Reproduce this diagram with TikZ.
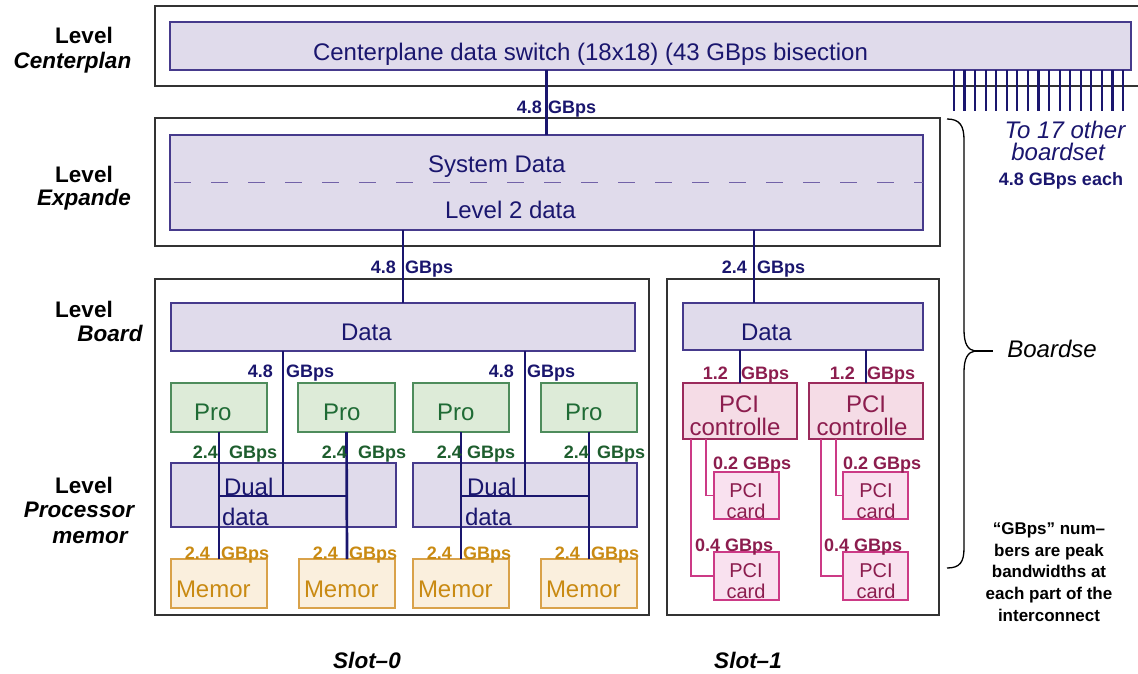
\documentclass[tikz,border=0pt]{standalone}
\usepackage{fontspec}
\setmainfont{Liberation Sans}
\usetikzlibrary{calc}

% palette
\definecolor{navy}{HTML}{1A166E}
\definecolor{frame}{HTML}{333333}
\definecolor{dataline}{HTML}{463A8C}
\definecolor{datafill}{HTML}{E0DBEB}
\definecolor{dashcol}{HTML}{7262A8}
\definecolor{profill}{HTML}{DDEBD8}
\definecolor{proline}{HTML}{4E8C5C}
\definecolor{protext}{HTML}{1F6B35}
\definecolor{prolab}{HTML}{1E5E2E}
\definecolor{memfill}{HTML}{FAEFDD}
\definecolor{memline}{HTML}{D9A24A}
\definecolor{memtext}{HTML}{C98A12}
\definecolor{pcifill}{HTML}{F5DCE6}
\definecolor{pciline}{HTML}{9B2B5C}
\definecolor{pcitext}{HTML}{8C1D4E}
\definecolor{cardfill}{HTML}{F9E1EF}
\definecolor{cardline}{HTML}{CC3A86}

% font sizes (1pt = 1 pixel of the page)
\newcommand\szbox{\fontsize{24}{26}\selectfont}
\newcommand\szcard{\fontsize{20}{21}\selectfont}
\newcommand\szrate{\bfseries\fontsize{18}{18}\selectfont}
\newcommand\szside{\bfseries\fontsize{22.5}{24}\selectfont}
\newcommand\sznote{\bfseries\fontsize{17}{21.7}\selectfont}

% a box given by its corners: style, name, x1, y1, x2, y2
\newcommand\boxat[6]{%
  \node[#1, minimum width={#5pt-#3pt}, minimum height={#6pt-#4pt}]
    (#2) at ({(#3+#5)/2},{(#4+#6)/2}) {};}

% a rate label split around a vertical link: name, colour, number, number's right x, GBps left x, baseline
\newcommand\rate[6]{%
  \node[txt, font=\szrate, text=#2, anchor=base east] (#1n) at (#4,#6) {#3};
  \node[txt, font=\szrate, text=#2, anchor=base west] (#1g) at (#5,#6) {GBps};}

\begin{document}
\begin{tikzpicture}[x=1pt, y=-1pt,
  txt/.style={inner sep=0pt, outer sep=0pt},
  boxbase/.style={rectangle, inner sep=0pt, outer sep=0pt, line width=1.6pt},
  outerbox/.style={boxbase, draw=frame, line width=1.5pt},
  databox/.style={boxbase, draw=dataline, fill=datafill},
  probox/.style={boxbase, draw=proline, fill=profill},
  membox/.style={boxbase, draw=memline, fill=memfill},
  pcibox/.style={boxbase, draw=pciline, fill=pcifill},
  cardbox/.style={boxbase, draw=cardline, fill=cardfill},
  link/.style={draw=navy, line width=2.7pt},
  cardlink/.style={draw=cardline, line width=1.4pt},
  datatext/.style={txt, font=\szbox, text=navy},
  protxt/.style={txt, font=\szbox, text=protext, anchor=base west},
  memtxt/.style={txt, font=\szbox, text=memtext, anchor=base west},
  pcitxt/.style={txt, font=\szbox, text=pcitext, anchor=base},
  cardtxt/.style={txt, font=\szcard, text=pcitext, anchor=base},
  side/.style={txt, font=\szside, anchor=base},
]
\useasboundingbox (0,0) rectangle (1138,673);

% ---------- level captions ----------
\node[side] (lvc1) at (84,43) {Level};
\node[side] (lvc2) at (72.5,68) {\itshape Centerplan};
\node[side] (lve1) at (84,182) {Level};
\node[side] (lve2) at (84,205) {\itshape Expande};
\node[side] (lvb1) at (84,317) {Level};
\node[side] (lvb2) at (110,341) {\itshape Board};
\node[side] (lvp1) at (84,493) {Level};
\node[side] (lvp2) at (79,517) {\itshape Processor};
\node[side] (lvp3) at (90,543) {\itshape memor};

% ---------- centerplane ----------
\draw[frame, line width=1.5pt] (1138,6) -- (155,6) -- (155,86) -- (1138,86);
\boxat{databox}{cp}{170}{22}{1131}{70}
\node[datatext, anchor=base west] (cptext) at (313,60) {Centerplane data switch (18x18) (43 GBps bisection};

% links to the other boardsets
\foreach \i in {0,...,16}
  \draw[link, line width=2.2pt] (cp.south east) ++({-177+\i*10.56},0) -- ++(0,41);
\node[txt, font=\szbox\itshape, text=navy, anchor=base] (other1) at (1065,138) {To 17 other};
\node[txt, font=\szbox\itshape, text=navy, anchor=base] (other2) at (1058,160) {boardset};
\node[txt, font=\szrate, text=navy, anchor=base] (other3) at (1061,185) {4.8 GBps each};

% ---------- expander ----------
\boxat{outerbox}{expo}{155}{118}{940}{246}
\boxat{databox}{exp}{170}{135}{923}{230}
\draw[dashcol, line width=1.7pt, dash pattern=on 17pt off 20pt, dash phase=-4pt] (exp.west) -- (exp.east);
\node[datatext, anchor=base west] (sysdata) at (428,172) {System Data};
\node[datatext, anchor=base west] (l2data) at (445,218) {Level 2 data};

\draw[link] (exp.north) -- (exp.north |- cp.south);
\rate{rcp}{navy}{4.8}{542}{548}{113}

% ---------- slot 0 ----------
\boxat{outerbox}{slot0}{155}{279}{649}{615}
\boxat{databox}{data0}{171}{303}{635}{351}
\node[datatext, anchor=base west] (data0t) at (341,340) {Data};

\boxat{probox}{pro1}{171}{383}{267}{432}
\boxat{probox}{pro2}{298}{383}{395}{432}
\boxat{probox}{pro3}{413}{383}{509}{432}
\boxat{probox}{pro4}{541}{383}{637}{432}
\node[protxt] (pro1t) at (194,420) {Pro};
\node[protxt] (pro2t) at (323,420) {Pro};
\node[protxt] (pro3t) at (437,420) {Pro};
\node[protxt] (pro4t) at (565,420) {Pro};

\boxat{databox}{dual1}{171}{463}{396}{527}
\boxat{databox}{dual2}{413}{463}{637}{527}
\node[datatext, anchor=base west] (dual1a) at (224,495) {Dual};
\node[datatext, anchor=base west] (dual1b) at (222,525) {data};
\node[datatext, anchor=base west] (dual2a) at (467,495) {Dual};
\node[datatext, anchor=base west] (dual2b) at (465,525) {data};

\boxat{membox}{mem1}{171}{559}{267}{608}
\boxat{membox}{mem2}{299}{559}{395}{608}
\boxat{membox}{mem3}{413}{559}{509}{608}
\boxat{membox}{mem4}{541}{559}{637}{608}
\node[memtxt] (mem1t) at (176,597) {Memor};
\node[memtxt] (mem2t) at (304,597) {Memor};
\node[memtxt] (mem3t) at (418,597) {Memor};
\node[memtxt] (mem4t) at (546,597) {Memor};

% ---------- slot 1 ----------
\boxat{outerbox}{slot1}{667}{279}{939}{615}
\boxat{databox}{data1}{683}{303}{923}{350}
\node[datatext, anchor=base west] (data1t) at (741,340) {Data};

\boxat{pcibox}{pci1}{683}{383}{797}{439}
\boxat{pcibox}{pci2}{809}{383}{923}{439}
\node[pcitxt] (pci1a) at (739,412) {PCI};
\node[pcitxt] (pci1b) at (735,435) {controlle};
\node[pcitxt] (pci2a) at (866,412) {PCI};
\node[pcitxt] (pci2b) at (862,435) {controlle};

\boxat{cardbox}{c1a}{714}{472}{779}{519}
\boxat{cardbox}{c1b}{714}{552}{779}{600}
\boxat{cardbox}{c2a}{843}{472}{908}{519}
\boxat{cardbox}{c2b}{843}{552}{908}{600}
\node[cardtxt] (c1at) at (746,497) {PCI};
\node[cardtxt] (c1ab) at (746,518) {card};
\node[cardtxt] (c1bt) at (746,577) {PCI};
\node[cardtxt] (c1bb) at (746,598) {card};
\node[cardtxt] (c2at) at (876,497) {PCI};
\node[cardtxt] (c2ab) at (876,518) {card};
\node[cardtxt] (c2bt) at (876,577) {PCI};
\node[cardtxt] (c2bb) at (876,598) {card};

% ---------- connectors ----------
\coordinate (up1) at (754,0);
\draw[link] (data0.north) -- (data0.north |- exp.south);
\draw[link] (data1.north -| up1) -- (exp.south -| up1);
\rate{rb0}{navy}{4.8}{396}{405}{273}
\rate{rb1}{navy}{2.4}{747}{757}{273}

% processor / memory buses
\coordinate (bus1) at (283,496);
\coordinate (bus2) at (525,496);
\draw[link] (pro1.south) -- (mem1.north);
\draw[link] (pro2.south) -- (mem2.north);
\draw[link] (pro3.south) -- (mem3.north);
\draw[link] (pro4.south) -- (mem4.north);
\draw[link] (pro1.south |- bus1) -- (pro2.south |- bus1);
\draw[link] (pro3.south |- bus2) -- (pro4.south |- bus2);
\draw[link] (data0.south -| bus1) -- (bus1);
\draw[link] (data0.south -| bus2) -- (bus2);

\rate{rd1}{navy}{4.8}{273}{286}{377}
\rate{rd2}{navy}{4.8}{514}{527}{377}

\rate{rp1}{prolab}{2.4}{218}{229}{458}
\rate{rp2}{prolab}{2.4}{347}{358}{458}
\rate{rp3}{prolab}{2.4}{462}{467}{458}
\rate{rp4}{prolab}{2.4}{589}{597}{458}

\rate{rm1}{memtext}{2.4}{210}{221}{559}
\rate{rm2}{memtext}{2.4}{338}{349}{559}
\rate{rm3}{memtext}{2.4}{452}{463}{559}
\rate{rm4}{memtext}{2.4}{580}{591}{559}

% PCI side
\draw[link] (pci1.north) -- (pci1.north |- data1.south);
\draw[link] (pci2.north) -- (pci2.north |- data1.south);
\rate{rc1}{pcitext}{1.2}{728}{741}{379}
\rate{rc2}{pcitext}{1.2}{855}{867}{379}

\draw[cardlink] (pci1.south west) ++(23,0) |- (c1a.west);
\draw[cardlink] (pci1.south west) ++(8,0) |- (c1b.west);
\draw[cardlink] (pci2.south west) ++(27,0) |- (c2a.west);
\draw[cardlink] (pci2.south west) ++(12,0) |- (c2b.west);
\node[txt, font=\szrate, text=pcitext, anchor=base west] (rk1a) at (713,469) {0.2 GBps};
\node[txt, font=\szrate, text=pcitext, anchor=base west] (rk1b) at (695,551) {0.4 GBps};
\node[txt, font=\szrate, text=pcitext, anchor=base west] (rk2a) at (843,469) {0.2 GBps};
\node[txt, font=\szrate, text=pcitext, anchor=base west] (rk2b) at (824,551) {0.4 GBps};

% ---------- boardset brace ----------
\draw[black, line width=1.3pt]
  (947,119) .. controls (960,119) and (964,126) .. (964,140)
  -- (964,330) .. controls (964,344) and (968,350) .. (975,351)
  .. controls (968,352) and (964,358) .. (964,372)
  -- (964,548) .. controls (964,562) and (960,568) .. (947,568);
\coordinate (tip) at (975,351);
\node[txt, font=\szbox\itshape, anchor=base] (boardse) at (1052,357) {Boardse};
\draw[black, line width=1.3pt] (tip) -- (993,351);

\node[txt, font=\sznote, align=center] (note) at (1049,572)
  {“GBps” num–\\bers are peak\\bandwidths at\\each part of the\\interconnect};

% ---------- slot captions ----------
\node[side] (s0) at (367,668) {\itshape Slot–0};
\node[side] (s1) at (748,668) {\itshape Slot–1};
\end{tikzpicture}
\end{document}
